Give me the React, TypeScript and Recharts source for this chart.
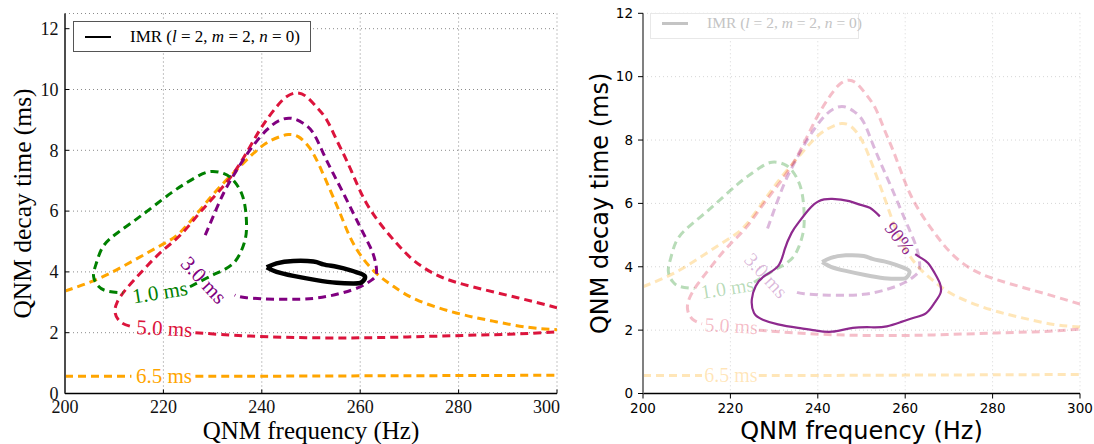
import {
	ComposedChart,
	Line,
	Scatter,
	XAxis,
	YAxis,
	CartesianGrid,
	Legend,
} from "recharts";

type Pt = { x: number; y: number | null };

const SERIF = '"Liberation Serif", "Times New Roman", serif';
const SANS = '"DejaVu Sans", sans-serif';

// axes
const freqTicks = [200, 220, 240, 260, 280, 300];
const tauTicks = [0, 2, 4, 6, 8, 10, 12];

// IMR 90% region (l=2, m=2, n=0), frequency Hz vs decay time ms
const imrContour: Pt[] = [
	{ x: 241, y: 4.15 }, { x: 243, y: 4.28 }, { x: 246.4, y: 4.36 }, { x: 250.5, y: 4.34 },
	{ x: 252.5, y: 4.25 }, { x: 255.2, y: 4.17 }, { x: 257.9, y: 4.06 }, { x: 260.3, y: 3.93 },
	{ x: 261, y: 3.82 }, { x: 260.3, y: 3.66 }, { x: 258.6, y: 3.62 }, { x: 255.2, y: 3.64 },
	{ x: 251.1, y: 3.73 }, { x: 246.4, y: 3.87 }, { x: 243, y: 4.0 }, { x: 241, y: 4.15 },
];

// ringdown contours at different start times
const contour1ms: Pt[] = [
	{ x: 225.4, y: 3.51 }, { x: 227.4, y: 3.68 }, { x: 230.1, y: 3.9 }, { x: 232.2, y: 4.06 },
	{ x: 234.2, y: 4.28 }, { x: 235.6, y: 4.61 }, { x: 236.6, y: 5.05 }, { x: 236.9, y: 5.49 },
	{ x: 236.7, y: 6.03 }, { x: 235.9, y: 6.58 }, { x: 234.2, y: 7.02 }, { x: 232.2, y: 7.24 },
	{ x: 229.5, y: 7.3 }, { x: 226.8, y: 7.13 }, { x: 224, y: 6.86 }, { x: 221.6, y: 6.6 },
	{ x: 218, y: 6.16 }, { x: 214.4, y: 5.72 }, { x: 210.7, y: 5.29 }, { x: 207.8, y: 4.85 },
	{ x: 206.4, y: 4.3 }, { x: 205.8, y: 3.86 }, { x: 206.8, y: 3.53 }, { x: 208.6, y: 3.37 },
	{ x: 211.8, y: 3.31 },
];

const contour3ms: Pt[] = [
	{ x: 228.5, y: 5.21 }, { x: 230.1, y: 5.82 }, { x: 232.2, y: 6.58 }, { x: 234.5, y: 7.24 },
	{ x: 237.6, y: 8.01 }, { x: 241, y: 8.67 }, { x: 243.7, y: 8.99 }, { x: 246.1, y: 9.05 },
	{ x: 248.4, y: 8.89 }, { x: 250.5, y: 8.56 }, { x: 252.5, y: 7.9 }, { x: 254.5, y: 7.24 },
	{ x: 256.6, y: 6.58 }, { x: 258.6, y: 5.93 }, { x: 260.3, y: 5.38 }, { x: 262, y: 4.83 },
	{ x: 263, y: 4.39 }, { x: 263.3, y: 3.95 }, { x: 262.3, y: 3.73 }, { x: 260, y: 3.51 },
	{ x: 255.9, y: 3.29 }, { x: 250.5, y: 3.13 }, { x: 243.7, y: 3.1 }, { x: 236.9, y: 3.15 },
	{ x: 234.5, y: 3.24 },
];

const contour5ms: Pt[] = [
	{ x: 300, y: 2.82 }, { x: 292, y: 3.15 }, { x: 281, y: 3.59 }, { x: 274.9, y: 3.95 },
	{ x: 270.8, y: 4.39 }, { x: 267.4, y: 4.94 }, { x: 264, y: 5.6 }, { x: 261.3, y: 6.25 },
	{ x: 259.3, y: 6.91 }, { x: 257.2, y: 7.68 }, { x: 255.2, y: 8.34 }, { x: 253.2, y: 9.0 },
	{ x: 251.1, y: 9.43 }, { x: 249.1, y: 9.76 }, { x: 247.1, y: 9.89 }, { x: 245, y: 9.76 },
	{ x: 243, y: 9.43 }, { x: 239.6, y: 8.67 }, { x: 235.6, y: 7.57 }, { x: 231.5, y: 6.69 },
	{ x: 227.4, y: 5.95 }, { x: 223.5, y: 5.22 }, { x: 219.5, y: 4.65 }, { x: 215.9, y: 4.06 },
	{ x: 212.5, y: 3.45 }, { x: 210.6, y: 3.0 }, { x: 210.2, y: 2.65 }, { x: 211.3, y: 2.35 },
	{ x: 213.5, y: 2.2 }, { x: 220, y: null },
	{ x: 226.5, y: 2.0 }, { x: 237.6, y: 1.89 }, { x: 252, y: 1.83 }, { x: 266.6, y: 1.85 },
	{ x: 281, y: 1.91 }, { x: 292, y: 1.96 }, { x: 300, y: 2.03 },
];

const contour65msArc: Pt[] = [
	{ x: 200, y: 3.37 }, { x: 207.1, y: 3.8 }, { x: 213.9, y: 4.37 }, { x: 220, y: 4.92 },
	{ x: 223.4, y: 5.3 }, { x: 227.4, y: 6.03 }, { x: 231.5, y: 6.8 }, { x: 236.2, y: 7.57 },
	{ x: 240.3, y: 8.17 }, { x: 243.7, y: 8.45 }, { x: 245.4, y: 8.52 }, { x: 247.4, y: 8.45 },
	{ x: 249.8, y: 8.06 }, { x: 251.8, y: 7.46 }, { x: 253.9, y: 6.69 }, { x: 255.9, y: 5.93 },
	{ x: 257.9, y: 5.16 }, { x: 260.3, y: 4.5 }, { x: 263.3, y: 3.95 }, { x: 266.7, y: 3.53 },
	{ x: 271.5, y: 3.08 }, { x: 279.5, y: 2.65 }, { x: 287, y: 2.38 }, { x: 294, y: 2.18 },
	{ x: 300, y: 2.1 },
];

const contour65msFloor: Pt[] = [
	{ x: 200, y: 0.57 }, { x: 213.5, y: 0.57 }, { x: 220, y: null }, { x: 226.5, y: 0.57 },
	{ x: 240, y: 0.57 }, { x: 260, y: 0.58 }, { x: 280, y: 0.59 }, { x: 300, y: 0.6 },
];

// ringdown 90% region shown in the right panel
const ringdown90: Pt[] = [
	{ x: 254.2, y: 5.59 }, { x: 251.9, y: 5.86 }, { x: 249.6, y: 5.96 }, { x: 247.2, y: 6.07 },
	{ x: 243.3, y: 6.14 }, { x: 240.2, y: 6.07 }, { x: 237.9, y: 5.8 }, { x: 235.5, y: 5.38 },
	{ x: 234, y: 5.07 }, { x: 232.4, y: 4.54 }, { x: 230.9, y: 4.02 }, { x: 227.7, y: 3.7 },
	{ x: 225.8, y: 3.39 }, { x: 224.9, y: 2.97 }, { x: 225.4, y: 2.54 }, { x: 227.4, y: 2.33 },
	{ x: 230.9, y: 2.18 }, { x: 235.5, y: 2.07 }, { x: 239.4, y: 1.99 }, { x: 243.3, y: 1.95 },
	{ x: 248, y: 2.07 }, { x: 252.7, y: 2.09 }, { x: 255.8, y: 2.12 }, { x: 258.9, y: 2.25 },
	{ x: 262, y: 2.39 }, { x: 264.8, y: 2.54 }, { x: 266.7, y: 2.86 }, { x: 268.1, y: 3.18 },
	{ x: 267.9, y: 3.49 }, { x: 266.7, y: 3.81 }, { x: 265.2, y: 4.12 }, { x: 263.6, y: 4.28 },
	{ x: 262.3, y: 4.4 },
];

const contourLabels = [
	{ x: 219.3, y: 3.33, text: "1.0 ms" },
	{ x: 228.2, y: 3.73, text: "3.0 ms" },
	{ x: 220.2, y: 2.14, text: "5.0 ms" },
	{ x: 220.1, y: 0.57, text: "6.5 ms" },
];
const ringdownLabel = [{ x: 258.7, y: 4.91, text: "90%" }];

const GREEN = "#008000";
const PURPLE = "#800080";
const CRIMSON = "#dc143c";
const ORANGE = "#ffa500";
const RING = "#8e2a8e";

const labelLook: Record<string, { color: string; angle: number }> = {
	"1.0 ms": { color: GREEN, angle: -9 },
	"3.0 ms": { color: PURPLE, angle: 47 },
	"5.0 ms": { color: CRIMSON, angle: 3 },
	"6.5 ms": { color: ORANGE, angle: 0 },
	"90%": { color: RING, angle: 52 },
};

const dashedLine = (
	key: string,
	data: Pt[],
	color: string,
	opacity: number,
) => (
	<Line
		key={key}
		data={data}
		dataKey="y"
		type="natural"
		stroke={color}
		strokeOpacity={opacity}
		strokeWidth={3}
		strokeDasharray="8 5"
		dot={false}
		activeDot={false}
		connectNulls={false}
		legendType="none"
		isAnimationActive={false}
	/>
);

const contourLines = (opacity: number) => [
	dashedLine("o1", contour65msFloor, ORANGE, opacity),
	dashedLine("o2", contour65msArc, ORANGE, opacity),
	dashedLine("r", contour5ms, CRIMSON, opacity),
	dashedLine("p", contour3ms, PURPLE, opacity),
	dashedLine("g", contour1ms, GREEN, opacity),
];

const labelMarks = (
	labels: { x: number; y: number; text: string }[],
	opacity: number,
	size: number,
) =>
	labels.map((lab) => {
		const look = labelLook[lab.text];
		return (
			<Scatter
				key={lab.text}
				data={[lab]}
				dataKey="y"
				legendType="none"
				isAnimationActive={false}
				shape={(p: any) => (
					<text
						x={p.cx}
						y={p.cy}
						textAnchor="middle"
						dominantBaseline="central"
						transform={`rotate(${look.angle}, ${p.cx}, ${p.cy})`}
						fill={look.color}
						fillOpacity={opacity}
						fontFamily={SERIF}
						fontSize={size}
					>
						{lab.text}
					</text>
				)}
			/>
		);
	});

const ImrLegend = ({
	color,
	border,
	fontSize,
	width,
	height,
	padTop,
}: {
	color: string;
	border: string;
	fontSize: number;
	width: number;
	height: number;
	padTop: number;
}) => (
	<div
		style={{
			boxSizing: "border-box",
			width,
			height,
			border: `1px solid ${border}`,
			background: "#fff",
			fontFamily: SERIF,
			fontSize,
			color,
			position: "relative",
		}}
	>
		<span
			style={{
				position: "absolute",
				left: 11,
				top: padTop - 1,
				width: 26,
				height: 2.5,
				background: color,
			}}
		/>
		<span
			style={{
				position: "absolute",
				left: 56,
				top: padTop,
				transform: "translateY(-50%)",
				whiteSpace: "nowrap",
			}}
		>
			IMR (<i>l</i> = 2, <i>m</i> = 2, <i>n</i> = 0)
		</span>
	</div>
);

const titleStyle = (family: string, size: number) => ({
	fontFamily: family,
	fontSize: size,
	fill: "#000",
	stroke: "none",
	fontWeight: 400,
});

function LeftPanel() {
	const tickFont = { fill: "#111", fontSize: 18, fontFamily: SERIF, stroke: "none" };
	return (
		<ComposedChart
			width={560}
			height={444}
			margin={{ top: 13.5, right: 3, bottom: 0, left: 0 }}
		>
			<CartesianGrid stroke="#8a8a8a" strokeDasharray="1 3" />
			<XAxis
				dataKey="x"
				type="number"
				domain={[200, 300]}
				ticks={freqTicks}
				allowDataOverflow
				height={50.5}
				tickSize={-4}
				tickMargin={11}
				tick={tickFont}
				axisLine={{ stroke: "#000", strokeWidth: 1.5 }}
				tickLine={{ stroke: "#000" }}
				label={{
					value: "QNM frequency (Hz)",
					position: "insideBottom",
					offset: 5.5,
					style: titleStyle(SERIF, 25),
				}}
			/>
			<XAxis
				xAxisId="top"
				orientation="top"
				type="number"
				domain={[200, 300]}
				ticks={freqTicks}
				height={0}
				tick={false}
				tickSize={-4}
				axisLine={{ stroke: "#000", strokeWidth: 1.5 }}
				tickLine={{ stroke: "#000" }}
			/>
			<YAxis
				dataKey="y"
				type="number"
				domain={[0, 12.5]}
				ticks={tauTicks}
				allowDataOverflow
				width={65}
				tickSize={-4}
				tickMargin={10.5}
				tick={tickFont}
				axisLine={{ stroke: "#4d4d4d", strokeWidth: 2 }}
				tickLine={{ stroke: "#000" }}
				label={{
					value: "QNM decay time (ms)",
					angle: -90,
					position: "insideLeft",
					offset: 22,
					style: { ...titleStyle(SERIF, 25.5), textAnchor: "middle" },
				}}
			/>
			<YAxis
				yAxisId="right"
				orientation="right"
				type="number"
				domain={[0, 12.5]}
				ticks={tauTicks}
				width={0}
				tick={false}
				tickSize={-4}
				axisLine={{ stroke: "#4d4d4d", strokeWidth: 2 }}
				tickLine={{ stroke: "#000" }}
			/>
			{contourLines(1)}
			{labelMarks(contourLabels, 1, 21)}
			<Line
				data={imrContour}
				dataKey="y"
				type="natural"
				stroke="#000"
				strokeWidth={4.5}
				dot={false}
				activeDot={false}
				legendType="line"
				name="IMR"
				isAnimationActive={false}
			/>
			<Legend
				layout="horizontal"
				verticalAlign="middle"
				align="center"
				wrapperStyle={{ top: 21, left: 73, width: 238, height: 31 }}
				content={() => (
					<ImrLegend
						color="#000"
						border="#555"
						fontSize={17}
						width={238}
						height={31}
						padTop={14.5}
					/>
				)}
			/>
		</ComposedChart>
	);
}

function RightPanel() {
	const tickFont = { fill: "#000", fontSize: 13.5, fontFamily: SANS, stroke: "none" };
	return (
		<ComposedChart
			width={534}
			height={444}
			margin={{ top: 13.3, right: 14, bottom: 0, left: 0 }}
		>
			<CartesianGrid stroke="#d6d6d6" strokeDasharray="1 3" />
			<XAxis
				dataKey="x"
				type="number"
				domain={[200, 300]}
				ticks={freqTicks}
				allowDataOverflow
				height={50.5}
				tickSize={5}
				tickMargin={4.5}
				tick={tickFont}
				axisLine={{ stroke: "#000", strokeWidth: 1.5 }}
				tickLine={{ stroke: "#000" }}
				label={{
					value: "QNM frequency (Hz)",
					position: "insideBottom",
					offset: 5,
					style: titleStyle(SANS, 24),
				}}
			/>
			<XAxis
				xAxisId="top"
				orientation="top"
				type="number"
				domain={[200, 300]}
				ticks={freqTicks}
				height={0}
				tick={false}
				tickLine={false}
				axisLine={{ stroke: "#000", strokeWidth: 1.5 }}
			/>
			<YAxis
				dataKey="y"
				type="number"
				domain={[0, 12]}
				ticks={tauTicks}
				allowDataOverflow
				width={83}
				tickSize={5}
				tickMargin={5}
				tick={tickFont}
				axisLine={{ stroke: "#808080", strokeWidth: 2 }}
				tickLine={{ stroke: "#000" }}
				label={{
					value: "QNM decay time (ms)",
					angle: -90,
					position: "insideLeft",
					offset: 39,
					style: { ...titleStyle(SANS, 24), textAnchor: "middle" },
				}}
			/>
			<YAxis
				yAxisId="right"
				orientation="right"
				type="number"
				domain={[0, 12]}
				ticks={tauTicks}
				width={0}
				tick={false}
				tickLine={false}
				axisLine={{ stroke: "#000", strokeWidth: 1.5 }}
			/>
			{contourLines(0.28)}
			{labelMarks(contourLabels, 0.28, 20)}
			<Line
				data={imrContour}
				dataKey="y"
				type="natural"
				stroke="#c8c8c8"
				strokeWidth={4}
				dot={false}
				activeDot={false}
				legendType="line"
				name="IMR"
				isAnimationActive={false}
			/>
			<Line
				data={ringdown90}
				dataKey="y"
				type="natural"
				stroke={RING}
				strokeWidth={2.2}
				dot={false}
				activeDot={false}
				legendType="none"
				isAnimationActive={false}
			/>
			{labelMarks(ringdownLabel, 1, 19)}
			<Legend
				layout="horizontal"
				verticalAlign="middle"
				align="center"
				wrapperStyle={{ top: 13, left: 90, width: 209, height: 26 }}
				content={() => (
					<ImrLegend
						color="#c4c4c4"
						border="#e8e8e8"
						fontSize={15.5}
						width={209}
						height={26}
						padTop={9}
					/>
				)}
			/>
		</ComposedChart>
	);
}

export default function App() {
	return (
		<div
			style={{
				position: "absolute",
				left: 0,
				top: 0,
				width: 1094,
				height: 444,
				background: "#fff",
			}}
		>
			<div style={{ position: "absolute", left: 0, top: 0 }}>
				<LeftPanel />
			</div>
			<div style={{ position: "absolute", left: 560, top: 0 }}>
				<RightPanel />
			</div>
		</div>
	);
}
